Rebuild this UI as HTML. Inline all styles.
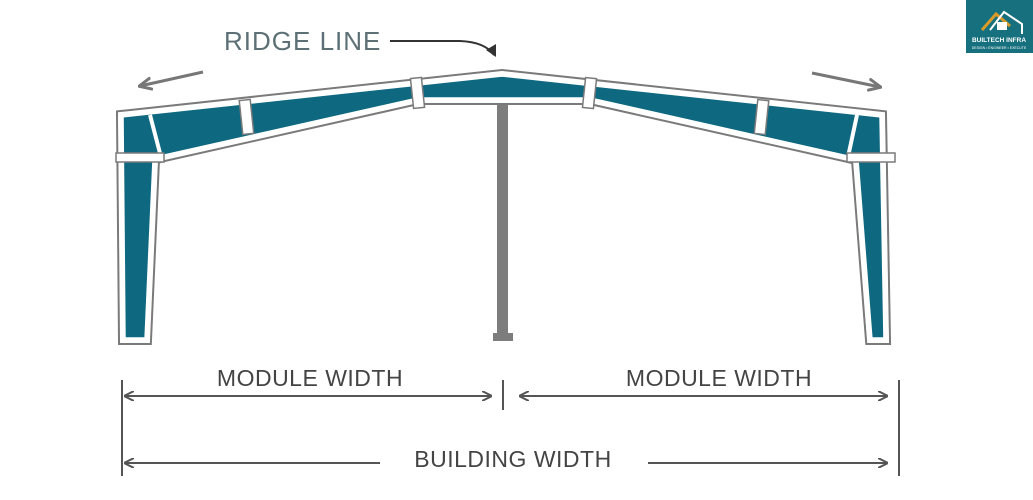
<!DOCTYPE html>
<html><head><style>
html,body{margin:0;padding:0;background:#fff;}
svg{display:block;font-family:"Liberation Sans",sans-serif;}
</style></head><body>
<svg width="1033" height="500" viewBox="0 0 1033 500" xmlns="http://www.w3.org/2000/svg">
<defs>
<marker id="ah" markerWidth="10" markerHeight="10" refX="9" refY="5" orient="auto-start-reverse" markerUnits="userSpaceOnUse"><path d="M0,0 L10,5 L0,10" fill="none" stroke="#555" stroke-width="2"/></marker>
<marker id="ag" markerWidth="14" markerHeight="14" refX="12" refY="7" orient="auto" markerUnits="userSpaceOnUse"><path d="M0,1 L13,7 L0,13" fill="none" stroke="#777" stroke-width="3"/></marker>
</defs>
<rect x="497" y="98" width="11" height="236" fill="#7d7d7d"/>
<rect x="493" y="333" width="20" height="8" fill="#7d7d7d"/>
<g>
<path d="M121,115 L502,74 L882,115 L886,340 L870,340 L856,160 L848,158 L590,100 L418,100 L160,158 L155,160 L147,340 L123,340 Z" fill="none" stroke="#7a7a7a" stroke-width="10" stroke-linejoin="miter"/>
<path d="M121,115 L502,74 L882,115 L886,340 L870,340 L856,160 L848,158 L590,100 L418,100 L160,158 L155,160 L147,340 L123,340 Z" fill="#fff" stroke="#fff" stroke-width="6"/>
<path d="M121,115 L502,74 L882,115 L886,340 L870,340 L856,160 L848,158 L590,100 L418,100 L160,158 L155,160 L147,340 L123,340 Z" fill="#0d6880" stroke="#fff" stroke-width="5.5"/>
</g>
<line x1="150" y1="115" x2="161" y2="157" stroke="#fff" stroke-width="4"/>
<line x1="857" y1="115" x2="848" y2="157" stroke="#fff" stroke-width="4"/>
<rect x="116" y="153" width="48" height="9" fill="#fff" stroke="#7a7a7a" stroke-width="1.5"/>
<rect x="847" y="153" width="48" height="9" fill="#fff" stroke="#7a7a7a" stroke-width="1.5"/>
<g fill="#fff" stroke="#7a7a7a" stroke-width="1.5">
<rect x="241" y="100" width="11" height="34" transform="rotate(-6 246 117)"/>
<rect x="412" y="78" width="11" height="30" transform="rotate(-6 417 93)"/>
<rect x="584" y="78" width="11" height="30" transform="rotate(6 589 93)"/>
<rect x="756" y="100" width="11" height="34" transform="rotate(6 761 117)"/>
</g>
<line x1="203" y1="72" x2="140" y2="86" stroke="#777" stroke-width="3" marker-end="url(#ag)"/>
<line x1="812" y1="73" x2="880" y2="87" stroke="#777" stroke-width="3" marker-end="url(#ag)"/>
<text x="224" y="50" font-size="26" fill="#5c7075" letter-spacing="1">RIDGE LINE</text>
<path d="M390,41 L460,41 Q485,42 494,55" fill="none" stroke="#333" stroke-width="2"/>
<path d="M486,50 L496,57 L496,44 Z" fill="#333"/>
<g stroke="#555" stroke-width="2">
<line x1="122" y1="380" x2="122" y2="476"/>
<line x1="503" y1="380" x2="503" y2="410"/>
<line x1="899" y1="380" x2="899" y2="476"/>
<line x1="125" y1="396" x2="491" y2="396" marker-start="url(#ah)" marker-end="url(#ah)"/>
<line x1="520" y1="396" x2="887" y2="396" marker-start="url(#ah)" marker-end="url(#ah)"/>
<line x1="125" y1="463" x2="380" y2="463" marker-start="url(#ah)"/>
<line x1="648" y1="463" x2="887" y2="463" marker-end="url(#ah)"/>
</g>
<g font-size="23" fill="#444" text-anchor="middle" letter-spacing="0.5">
<text x="310" y="386">MODULE WIDTH</text>
<text x="719" y="386">MODULE WIDTH</text>
<text x="513" y="467">BUILDING WIDTH</text>
</g>
<rect x="966" y="0" width="67" height="53" fill="#17707e"/>
<path d="M982,30 L996,14 L1010,26" fill="none" stroke="#d99a2a" stroke-width="3"/>
<path d="M990,30 L1004,12 L1022,24 L1022,34" fill="none" stroke="#fff" stroke-width="2"/>
<rect x="997" y="22" width="10" height="8" fill="#fff"/>
<text x="999" y="42" font-size="6.5" font-weight="bold" fill="#fff" text-anchor="middle">BUILTECH INFRA</text>
<text x="999" y="49" font-size="3.5" fill="#fff" text-anchor="middle">DESIGN • ENGINEER • EXECUTE</text>
</svg>
</body></html>
